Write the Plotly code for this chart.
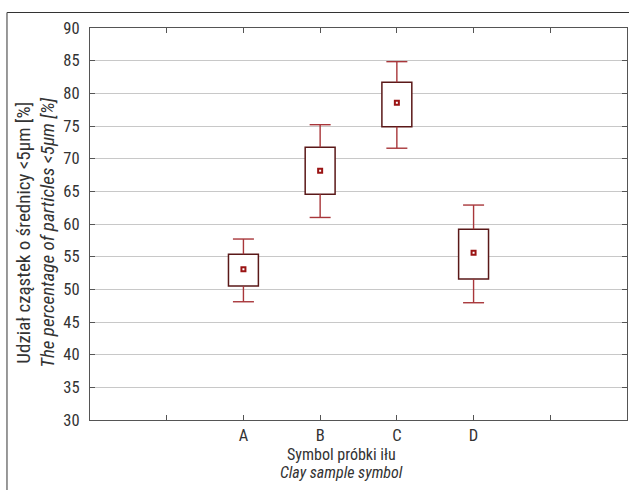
import plotly.graph_objects as go

categories = ["A", "B", "C", "D"]
positions = [2, 3, 4, 5]
whisker_min = [48.1, 61.0, 71.6, 47.95]
box_low = [50.5, 64.55, 74.9, 51.6]
mean_val = [53.07, 68.16, 78.56, 55.6]
box_high = [55.37, 71.75, 81.7, 59.2]
whisker_max = [57.7, 75.2, 84.85, 62.9]

tick_vals = [1, 2, 3, 4, 5, 6]
tick_text = [""] + categories + [""]

FONT = "Liberation Sans Narrow, Roboto Condensed, Arial Narrow, sans-serif"
TXT = "#333333"
BOX_LINE = "#5a1818"
WHISK = "#a8363a"
MEAN_C = "#9a1414"

fig = go.Figure()

# boxes
fig.add_trace(go.Bar(
    x=positions, base=box_low,
    y=[h - l for h, l in zip(box_high, box_low)],
    width=0.39,
    marker=dict(color="white", line=dict(color=BOX_LINE, width=1.5)),
    hoverinfo="skip", showlegend=False,
))

# whiskers
wx, wy = [], []
for p, lo, bl, bh, hi in zip(positions, whisker_min, box_low, box_high, whisker_max):
    wx += [p, p, None, p, p, None]
    wy += [lo, bl, None, bh, hi, None]
fig.add_trace(go.Scatter(
    x=wx, y=wy, mode="lines",
    line=dict(color=WHISK, width=1.4),
    hoverinfo="skip", showlegend=False,
))

# caps
fig.add_trace(go.Scatter(
    x=positions + positions, y=whisker_min + whisker_max, mode="markers",
    marker=dict(symbol="line-ew", size=15, line=dict(color=WHISK, width=1.4)),
    hoverinfo="skip", showlegend=False,
))

# means
fig.add_trace(go.Scatter(
    x=positions, y=mean_val, mode="markers",
    marker=dict(symbol="square", size=4, color="white",
                line=dict(color=MEAN_C, width=2)),
    showlegend=False,
))

axis_common = dict(
    showline=True, linecolor="#555555", linewidth=1.3, mirror="ticks",
    ticks="inside", ticklen=5, tickcolor="#555555", tickwidth=1.2,
    tickfont=dict(family=FONT, size=16.5, color=TXT),
    zeroline=False, automargin=False,
)

fig.update_xaxes(
    range=[0, 7], tickmode="array", tickvals=tick_vals, ticktext=tick_text,
    showgrid=False, **axis_common,
)
fig.update_yaxes(
    range=[30, 90], tickmode="linear", tick0=30, dtick=5,
    showgrid=True, gridcolor="#c8c8c8", gridwidth=1.3,
    ticklabelstandoff=6, **axis_common,
)

def title_ann(text, x, y, angle, size, italic=False):
    return dict(text=f"<i>{text}</i>" if italic else text,
                xref="paper", yref="paper", x=x, y=y,
                xanchor="center", yanchor="middle", textangle=angle,
                showarrow=False, font=dict(family=FONT, size=size, color=TXT))

fig.update_layout(
    width=629, height=490,
    margin=dict(l=90, r=2, t=28, b=70),
    paper_bgcolor="white", plot_bgcolor="white",
    font=dict(family=FONT, color=TXT),
    annotations=[
        title_ann("Symbol próbki iłu", 0.469, -0.0873, 0, 16),
        title_ann("Clay sample symbol", 0.469, -0.1332, 0, 16, italic=True),
        title_ann("Udział cząstek o średnicy <5μm [%]", -0.1229, 0.478, -90, 19),
        title_ann("The percentage of particles <5μm [%]", -0.0782, 0.478, -90, 19, italic=True),
    ],
    shapes=[
        dict(type="line", xref="paper", yref="paper", x0=-0.1546, x1=1.01,
             y0=1.0395, y1=1.0395, line=dict(color="#333333", width=1.2)),
        dict(type="line", xref="paper", yref="paper", x0=-0.1546, x1=-0.1546,
             y0=1.0395, y1=-0.2, line=dict(color="#555555", width=1.2)),
    ],
)

fig.write_html("out.html", config={"displayModeBar": False},
               post_script="document.body.style.margin='0';")
